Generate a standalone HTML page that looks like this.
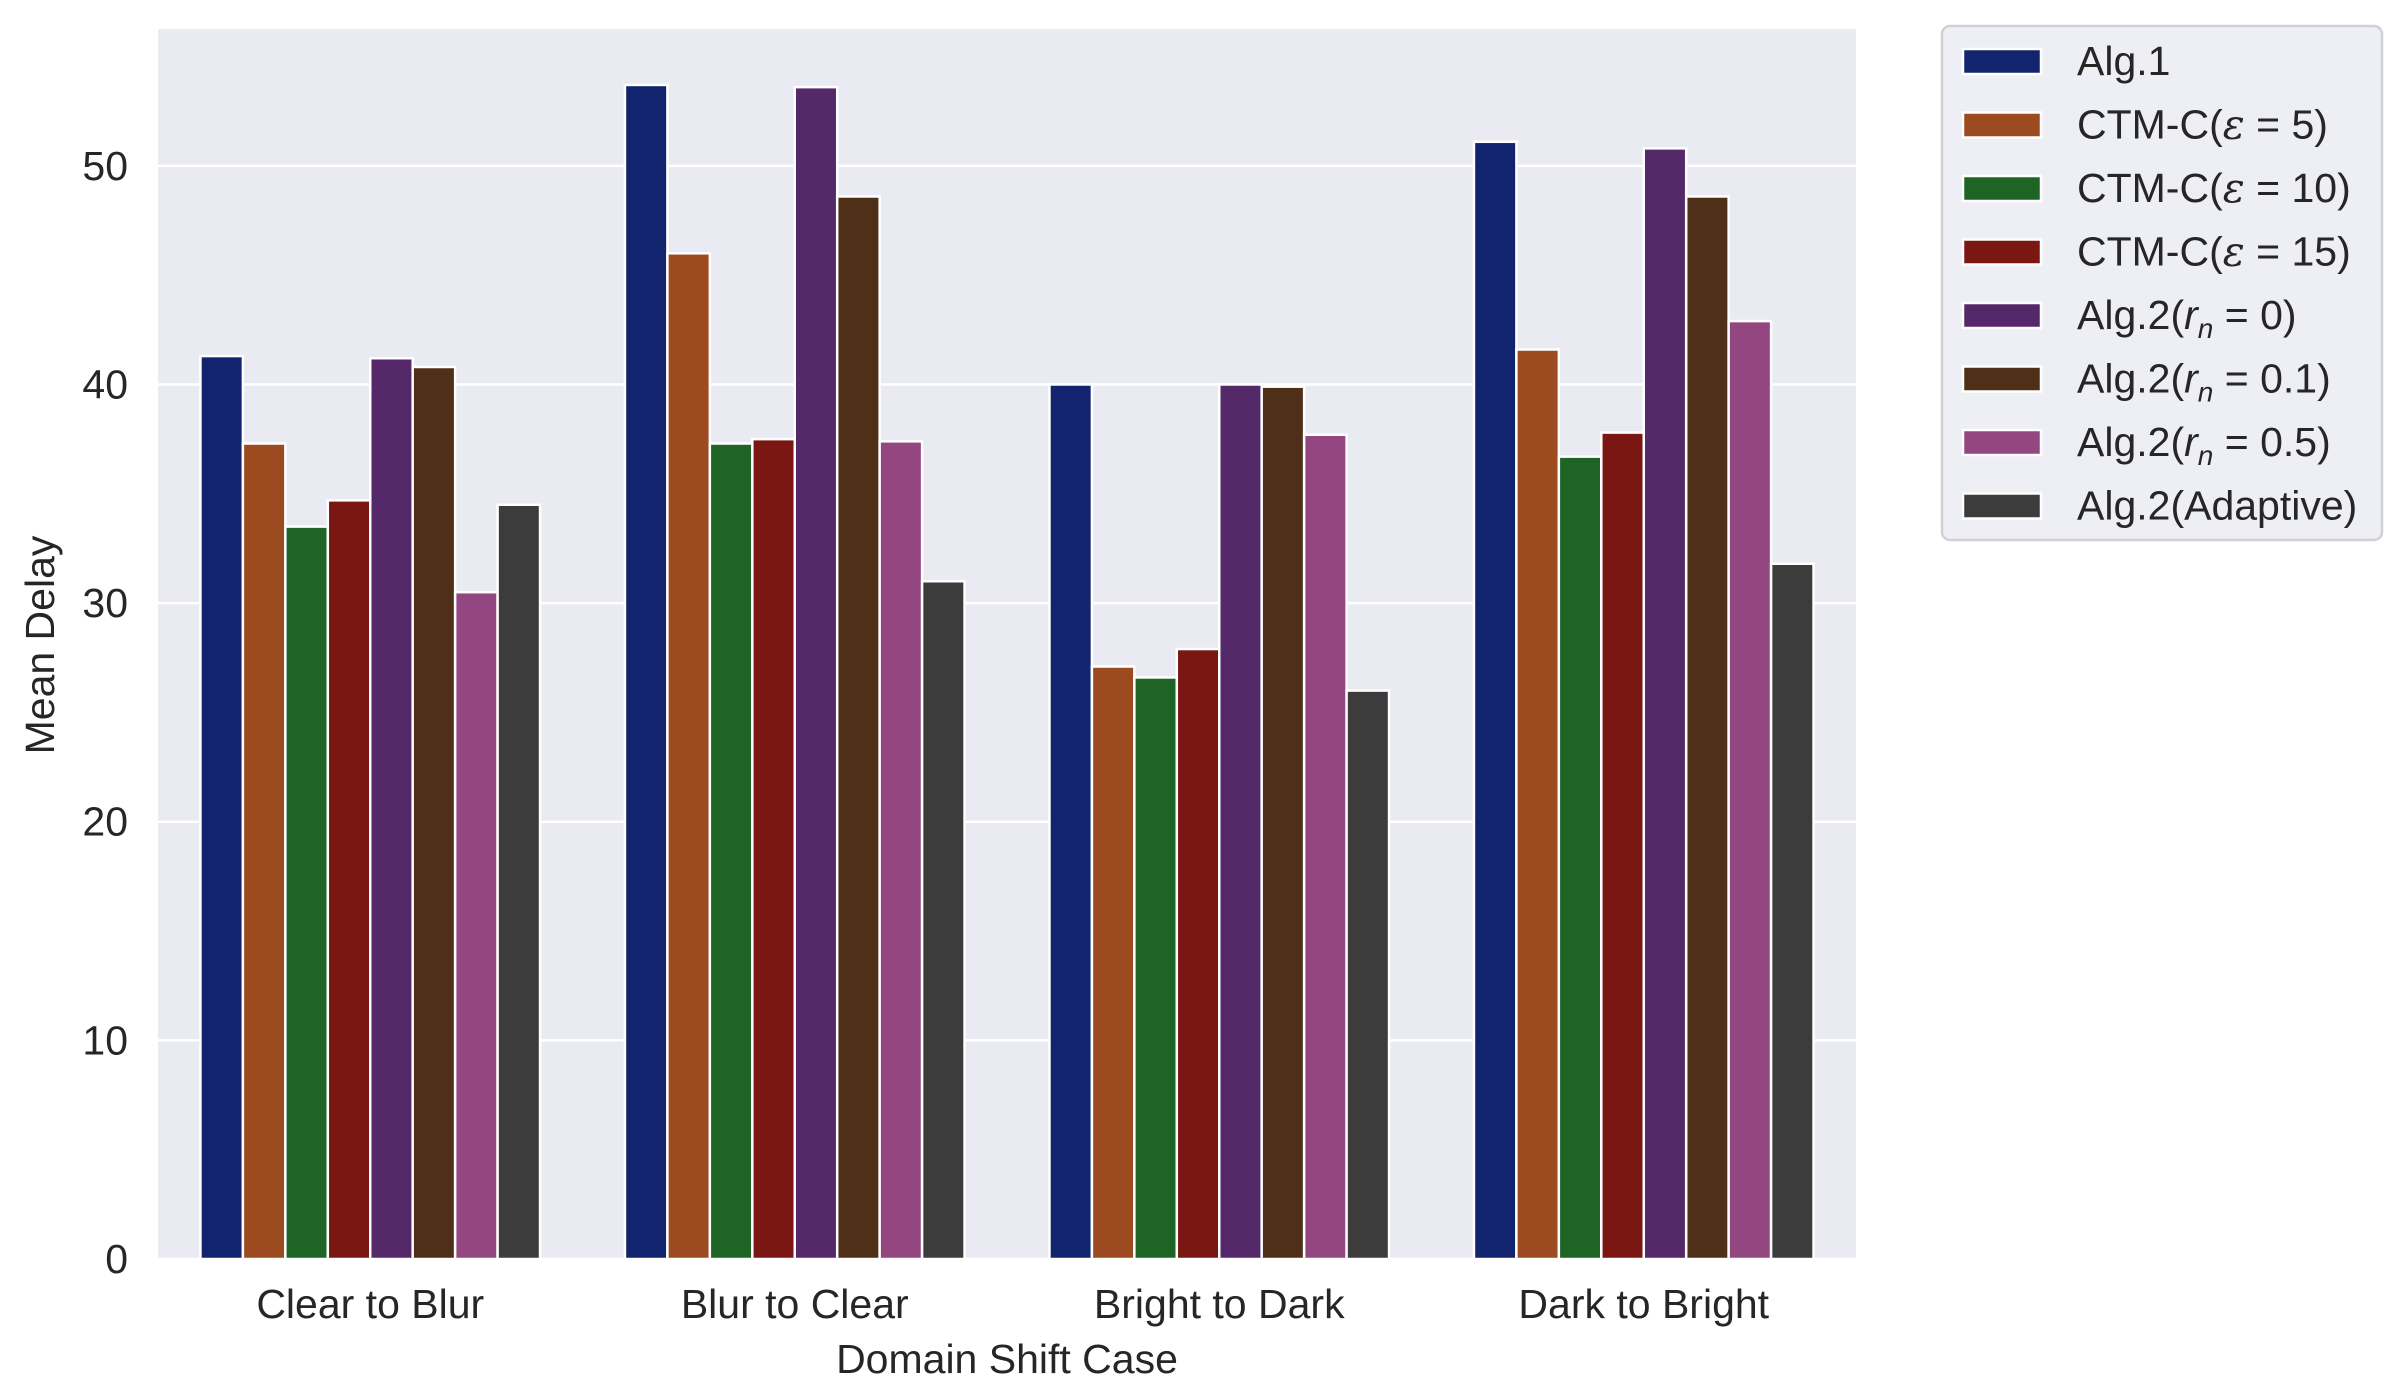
<!DOCTYPE html>
<html><head><meta charset="utf-8"><style>
html,body{margin:0;padding:0;background:#fff;}
svg{display:block;font-family:"Liberation Sans",Arial,sans-serif;}
</style></head><body>
<svg id="chart" width="2407" height="1400" viewBox="0 0 2407 1400" xmlns="http://www.w3.org/2000/svg">
<rect x="158" y="29" width="1698" height="1230" fill="#eaeaf2"/>
<g id="grid"></g><g id="bars"></g><g id="axes"></g><g id="legend"></g>
</svg>
<script>
const categories = ["Clear to Blur","Blur to Clear","Bright to Dark","Dark to Bright"];
const seriesNames = ["Alg.1","CTM-C(ε = 5)","CTM-C(ε = 10)","CTM-C(ε = 15)","Alg.2(r_n = 0)","Alg.2(r_n = 0.1)","Alg.2(r_n = 0.5)","Alg.2(Adaptive)"];
const alg1 = [41.3, 53.7, 40.0, 51.1];
const ctm5 = [37.3, 46.0, 27.1, 41.6];
const ctm10 = [33.5, 37.3, 26.6, 36.7];
const ctm15 = [34.7, 37.5, 27.9, 37.8];
const alg2r0 = [41.2, 53.6, 40.0, 50.8];
const alg2r01 = [40.8, 48.6, 39.9, 48.6];
const alg2r05 = [30.5, 37.4, 37.7, 42.9];
const alg2adaptive = [34.5, 31.0, 26.0, 31.8];
const yTicks = [0,10,20,30,40,50];

const series = [alg1, ctm5, ctm10, ctm15, alg2r0, alg2r01, alg2r05, alg2adaptive];
const colors = ["#12246e","#9c4a20","#1e6425","#7a1713","#55286a","#4f2f18","#944680","#3c3c3c"];
const NS = "http://www.w3.org/2000/svg";
const L=158, R=1856, T=29, B=1259;
const yMax = 56.26;
function y(v){ return B - v/yMax*(B-T); }
function xc(i){ return L + (i+0.5)*(R-L)/categories.length; }
const catW = (R-L)/categories.length, groupW = catW*0.8, barW = groupW/series.length;
function mk(tag, attrs, parent){ const e=document.createElementNS(NS,tag); for(const k in attrs) e.setAttribute(k,attrs[k]); parent.appendChild(e); return e; }
const grid=document.getElementById('grid'), bars=document.getElementById('bars'), axes=document.getElementById('axes'), legend=document.getElementById('legend');
yTicks.forEach(t=>{
  const gl=mk('line',{x1:L,x2:R,y1:y(t),y2:y(t),stroke:'#fff','stroke-width':2.5},grid);
  
  
  const tl=mk('text',{x:128,y:y(t)+14,'text-anchor':'end','font-size':41,fill:'#262626'},axes);
  tl.textContent=t;
  
  
});
series.forEach((vals,s)=>{
  vals.forEach((v,i)=>{
    const x0 = xc(i)-groupW/2 + s*barW;
    const r=mk('rect',{x:x0,y:y(v),width:barW,height:B-y(v),fill:colors[s],stroke:'#fff','stroke-width':2.5},bars);
    
    
  });
});
categories.forEach((c,i)=>{
  const t=mk('text',{x:xc(i),y:1318,'text-anchor':'middle','font-size':41,fill:'#262626'},axes);
  t.textContent=c;
  
  
});
const xl=mk('text',{x:1007,y:1373,'text-anchor':'middle','font-size':41,fill:'#262626'},axes);
xl.textContent='Domain Shift Case';


const yl=mk('text',{x:0,y:0,'text-anchor':'middle','font-size':41,fill:'#262626',transform:'translate(54,645) rotate(-90)'},axes);
yl.textContent='Mean Delay';


const lb=mk('rect',{x:1942,y:26,width:440,height:514,rx:8,fill:'#eaeaf2','fill-opacity':0.8,stroke:'#d0d0d6','stroke-width':2.5},legend);


const labels = [
 'Alg.1',
 'CTM-C(<tspan font-style="italic" font-family="DejaVu Serif, serif">ε</tspan> = 5)',
 'CTM-C(<tspan font-style="italic" font-family="DejaVu Serif, serif">ε</tspan> = 10)',
 'CTM-C(<tspan font-style="italic" font-family="DejaVu Serif, serif">ε</tspan> = 15)',
 'Alg.2(<tspan font-style="italic">r</tspan><tspan font-style="italic" font-size="28" dy="9">n</tspan><tspan dy="-9"> = 0)</tspan>',
 'Alg.2(<tspan font-style="italic">r</tspan><tspan font-style="italic" font-size="28" dy="9">n</tspan><tspan dy="-9"> = 0.1)</tspan>',
 'Alg.2(<tspan font-style="italic">r</tspan><tspan font-style="italic" font-size="28" dy="9">n</tspan><tspan dy="-9"> = 0.5)</tspan>',
 'Alg.2(Adaptive)'
];
seriesNames.forEach((n,s)=>{
  const cy = 61 + s*63.5;
  const g=mk('g',{},legend);
  
  
  mk('rect',{x:1963,y:cy-12,width:78,height:25,fill:colors[s],stroke:'#fff','stroke-width':2.5},g);
  const t=mk('text',{x:2077,y:cy+14,'font-size':41,fill:'#262626'},g);
  t.innerHTML=labels[s];
});
</script>
</body></html>
